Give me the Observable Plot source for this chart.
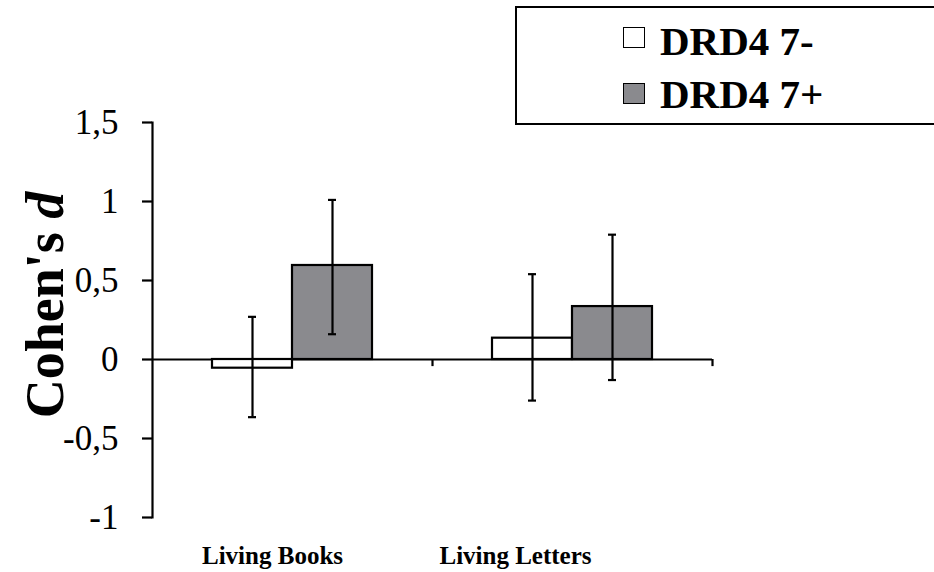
<!DOCTYPE html>
<html>
<head>
<meta charset="utf-8">
<script src="https://cdn.jsdelivr.net/npm/d3@7"></script>
<script src="https://cdn.jsdelivr.net/npm/@observablehq/plot@0.6"></script>
<style>
  html, body { margin: 0; padding: 0; background: #fff; overflow: hidden; }
  #wrap { position: relative; width: 934px; height: 572px; font-family: "Liberation Serif", serif; color: #000; }
  #chart { position: absolute; left: 0; top: 0; }
  #legendBox { position: absolute; left: 515px; top: 6px; width: 460px; height: 115px; border: 2px solid #000; }
  .sw { position: absolute; width: 20px; height: 19px; border: 1.5px solid #000; }
  .lt { position: absolute; font-family: "Liberation Serif", serif; font-size: 41px; font-weight: 700; line-height: 1; white-space: nowrap; }
  #ytitle { position: absolute; left: 45px; top: 305px; transform: translate(-50%, -50%) rotate(-90deg);
            font-family: "Liberation Serif", serif; font-size: 54px; font-weight: 700; line-height: 1; white-space: nowrap; }
</style>
</head>
<body>
<div id="wrap">
  <div id="chart"></div>
  <div id="legendBox"></div>
  <div id="ytitle">Cohen's <i>d</i></div>
</div>
<script>
// ---- data ----
const categories = ["Living Books", "Living Letters"];
const groups = ["DRD4 7-", "DRD4 7+"];
const groupColors = ["#ffffff", "#8a8a8e"];
const valuesMinus = [-0.055, 0.135];
const valuesPlus = [0.595, 0.335];
const lowMinus = [-0.365, -0.26];
const highMinus = [0.27, 0.54];
const lowPlus = [0.16, -0.13];
const highPlus = [1.01, 0.79];
const yTicks = [-1, -0.5, 0, 0.5, 1, 1.5];

const rows = [];
categories.forEach((c, i) => {
  rows.push({cat: c, group: groups[0], value: valuesMinus[i], lo: lowMinus[i], hi: highMinus[i]});
  rows.push({cat: c, group: groups[1], value: valuesPlus[i], lo: lowPlus[i], hi: highPlus[i]});
});

const W = 934, H = 572, ML = 152, MR = 222, MT = 122, MB = 55;
const facetW = (W - ML - MR) / categories.length;
const padOuter = 0.75;
const step = facetW / (groups.length + 2 * padOuter);
const edgeOffset = step / 2 + padOuter * step; // from last band centre to facet edge
const labelShift = [-20, -57]; // category labels sit left of their group centres
const LW = 2.2;

const catLabels = categories.map((c, i) =>
  Plot.text([c], {fx: d => d, text: d => d, frameAnchor: "bottom", dy: 38, dx: labelShift[i],
    fontSize: 25, fontWeight: "bold", lineAnchor: "middle", facet: "include"}));

const chart = Plot.plot({
  width: W, height: H,
  marginLeft: ML, marginRight: MR, marginTop: MT, marginBottom: MB,
  style: {fontFamily: '"Liberation Serif", serif', color: "#000", background: "transparent", overflow: "visible"},
  fx: {domain: categories, padding: 0, axis: null},
  x: {domain: groups, paddingInner: 0, paddingOuter: padOuter, axis: null},
  y: {domain: [-1, 1.5]},
  color: {domain: groups, range: groupColors},
  marks: [
    Plot.frame({anchor: "left", facetAnchor: "left", strokeWidth: LW}),
    Plot.axisY(yTicks, {tickSize: 10, tickPadding: 24, strokeWidth: LW, fontSize: 35,
      tickFormat: d => String(d).replace(".", ","), label: null, facetAnchor: "left"}),
    ...catLabels,
    Plot.ruleY([0], {strokeWidth: LW}),
    Plot.ruleX([groups[groups.length - 1]], {x: d => d, y1: 0, y2: -0.045, dx: edgeOffset, strokeWidth: LW}),
    Plot.barY(rows, {fx: "cat", x: "group", y: "value", fill: "group", stroke: "#000", strokeWidth: LW}),
    Plot.ruleX(rows, {fx: "cat", x: "group", y1: "lo", y2: "hi", strokeWidth: LW}),
    Plot.tickY(rows, {fx: "cat", x: "group", y: "hi", insetLeft: 36, insetRight: 36, strokeWidth: LW}),
    Plot.tickY(rows, {fx: "cat", x: "group", y: "lo", insetLeft: 36, insetRight: 36, strokeWidth: LW})
  ]
});
document.getElementById("chart").appendChild(chart);

// legend built from the group arrays
const wrap = document.getElementById("wrap");
const swTop = [27, 83], txtTop = [21, 74];
groups.forEach((g, i) => {
  const sw = document.createElement("div");
  sw.className = "sw";
  sw.style.left = "623px";
  sw.style.top = swTop[i] + "px";
  sw.style.background = groupColors[i];
  wrap.appendChild(sw);
  const t = document.createElement("div");
  t.className = "lt";
  t.style.left = "660px";
  t.style.top = txtTop[i] + "px";
  t.textContent = g;
  wrap.appendChild(t);
});
</script>
</body>
</html>
